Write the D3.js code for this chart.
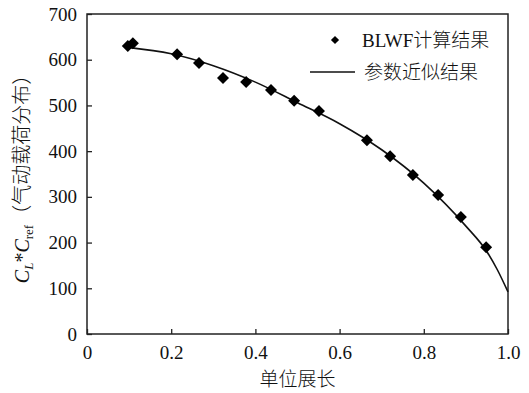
<!DOCTYPE html>
<html>
<head>
<meta charset="utf-8">
<script src="https://cdn.jsdelivr.net/npm/d3@7"></script>
<style>
    body { margin: 0; background: #fff; }
    text { font-family: "Liberation Serif", "Noto Sans CJK SC", serif; fill: #111; }
    .cjk { font-weight: 300; }
</style>
</head>
<body>
<svg id="chart"></svg>
<script>
// BLWF computed points (spanwise position, C_L*C_ref)
const blwfX = [0.097, 0.109, 0.214, 0.266, 0.323, 0.378, 0.437, 0.492, 0.551, 0.665, 0.720, 0.774, 0.834, 0.888, 0.948];
const blwfY = [630, 636, 612, 593, 560, 551, 534, 510, 488, 424, 389, 348, 304, 256, 190];

// fitted curve
const fitX = [0.097, 0.2, 0.3, 0.4, 0.5, 0.6, 0.7, 0.8, 0.9, 0.95, 0.975, 1.0];
const fitY = [627, 613, 587, 551, 506, 460, 403, 330, 236, 180, 140, 92];

const xTicks = [0, 0.2, 0.4, 0.6, 0.8, 1.0];
const yTicks = [0, 100, 200, 300, 400, 500, 600, 700];

const legendNames = ['BLWF计算结果', '参数近似结果'];

const margin = { top: 14, right: 21, bottom: 59, left: 87 };
const width = 529 - margin.left - margin.right;
const height = 393 - margin.top - margin.bottom;

const svg = d3.select('#chart')
    .attr('width', 529)
    .attr('height', 393);

const g = svg.append('g')
    .attr('transform', `translate(${margin.left}, ${margin.top})`);

const xScale = d3.scaleLinear().domain([0, 1]).range([0, width]);
const yScale = d3.scaleLinear().domain([0, 700]).range([height, 0]);

// frame
g.append('rect')
    .attr('width', width)
    .attr('height', height)
    .attr('fill', 'none')
    .attr('stroke', '#222')
    .attr('stroke-width', 1.5);

const xAxis = d3.axisBottom(xScale)
    .tickValues(xTicks)
    .tickSizeInner(-5)
    .tickSizeOuter(0)
    .tickPadding(12)
    .tickFormat((d) => d === 0 ? '0' : d3.format('.1f')(d));

const yAxis = d3.axisLeft(yScale)
    .tickValues(yTicks)
    .tickSizeInner(-5)
    .tickSizeOuter(0)
    .tickPadding(10)
    .tickFormat(d3.format('d'));

const gx = g.append('g')
    .attr('transform', `translate(0, ${height})`)
    .call(xAxis);

const gy = g.append('g').call(yAxis);

[gx, gy].forEach((ax) => {
    ax.select('.domain').remove();
    ax.selectAll('.tick line').attr('stroke', '#222').attr('stroke-width', 1.3);
    ax.selectAll('.tick text')
        .style('font-family', '"Liberation Serif", serif')
        .style('font-size', '19px')
        .attr('fill', '#111');
});

// fitted line
const line = d3.line()
    .x((d, i) => xScale(fitX[i]))
    .y((d) => yScale(d))
    .curve(d3.curveMonotoneX);

g.append('path')
    .datum(fitY)
    .attr('d', line)
    .attr('fill', 'none')
    .attr('stroke', '#111')
    .attr('stroke-width', 1.6);

// BLWF diamonds
const diamond = d3.symbol().type(d3.symbolSquare).size(72);

g.append('g')
    .selectAll('path')
    .data(blwfY)
    .enter()
    .append('path')
    .attr('d', diamond)
    .attr('transform', (d, i) => `translate(${xScale(blwfX[i])}, ${yScale(d)}) rotate(45)`)
    .attr('fill', '#000');

// legend
const legend = svg.append('g');
legend.append('path')
    .attr('d', d3.symbol().type(d3.symbolSquare).size(34))
    .attr('transform', 'translate(335, 40) rotate(45)')
    .attr('fill', '#000');
legend.append('text')
    .attr('class', 'cjk')
    .attr('x', 362)
    .attr('y', 47)
    .style('font-size', '19px')
    .text(legendNames[0]);
legend.append('line')
    .attr('x1', 310)
    .attr('x2', 355)
    .attr('y1', 72)
    .attr('y2', 72)
    .attr('stroke', '#111')
    .attr('stroke-width', 1.5);
legend.append('text')
    .attr('class', 'cjk')
    .attr('x', 364)
    .attr('y', 79)
    .style('font-size', '19px')
    .text(legendNames[1]);

// axis titles
svg.append('text')
    .attr('class', 'cjk')
    .attr('x', margin.left + width / 2)
    .attr('y', 386)
    .attr('text-anchor', 'middle')
    .style('font-size', '19px')
    .text('单位展长');

const yTitle = svg.append('text')
    .attr('class', 'cjk')
    .attr('transform', `translate(29, ${margin.top + 160}) rotate(-90)`)
    .attr('text-anchor', 'middle')
    .style('font-size', '20px');
yTitle.append('tspan').style('font-style', 'italic').text('C');
yTitle.append('tspan').style('font-style', 'italic').style('font-size', '13px').attr('dy', 4).text('L');
yTitle.append('tspan').attr('dy', -4).text('*');
yTitle.append('tspan').style('font-style', 'italic').text('C');
yTitle.append('tspan').style('font-size', '13px').attr('dy', 4).text('ref');
yTitle.append('tspan').attr('dy', -4).text('（气动载荷分布）');
</script>
</body>
</html>
